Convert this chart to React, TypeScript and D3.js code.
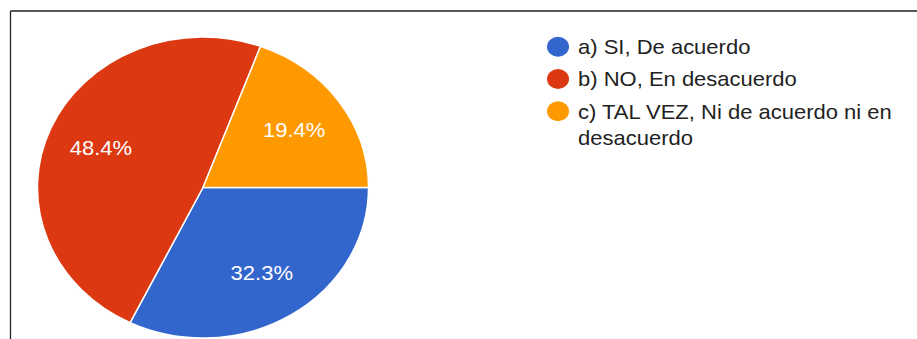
import React from "react";
import * as d3 from "d3";

const categories = ["a) SI, De acuerdo", "b) NO, En desacuerdo", "c) TAL VEZ, Ni de acuerdo ni en desacuerdo"];
const legendLines = [["a) SI, De acuerdo"], ["b) NO, En desacuerdo"], ["c) TAL VEZ, Ni de acuerdo ni en", "desacuerdo"]];
const counts = [10, 15, 6];
const colors = ["#3366cc", "#dc3912", "#ff9900"];

const W = 917;
const H = 339;
const SX = 1.1;
const CX = 203;
const CY = 187.5;
const R = 150.5;
const FONT = "'Liberation Sans', Arial, sans-serif";

export default function App() {
  const total = d3.sum(counts);
  const pie = d3
    .pie<number>()
    .sort(null)
    .startAngle(Math.PI / 2)
    .endAngle(Math.PI / 2 + 2 * Math.PI);
  const arcs = pie(counts);
  const arc = d3.arc<d3.PieArcDatum<number>>().innerRadius(0).outerRadius(R);
  const labelArc = d3.arc<d3.PieArcDatum<number>>().innerRadius(101).outerRadius(101);
  const fmt = d3.format(".1%");

  const legendY = d3.scalePoint<number>().domain([0, 1, 2]).range([46.7, 111.3]);

  return (
    <svg
      width={W}
      height={H}
      style={{ position: "absolute", left: 0, top: 0, background: "#fff" }}
    >
      <line x1={10.5} y1={11} x2={W} y2={11} stroke="#222" strokeWidth={1.3} />
      <line x1={10.5} y1={11} x2={10.5} y2={H} stroke="#222" strokeWidth={1.3} />
      <g transform={`translate(${CX},${CY}) scale(${SX},1)`}>
        {arcs.map((a, i) => (
          <path
            key={i}
            d={arc(a) || ""}
            fill={colors[i]}
            stroke="#fff"
            strokeWidth={1.5}
            vectorEffect="non-scaling-stroke"
          />
        ))}
        {arcs.map((a, i) => {
          const [x, y] = labelArc.centroid(a);
          return (
            <text
              key={i}
              x={x}
              y={y}
              dy="0.36em"
              textAnchor="middle"
              fill="#fff"
              fontFamily={FONT}
              fontSize={20}
            >
              {fmt(a.data / total)}
            </text>
          );
        })}
      </g>
      {categories.map((c, i) => (
        <g key={c} transform={`translate(558,${legendY(i)}) scale(${SX},1)`}>
          <circle r={10} fill={colors[i]} />
          {legendLines[i].map((ln, j) => (
            <text
              key={j}
              x={18.2}
              y={7.3 + j * 26}
              fill="#222"
              fontFamily={FONT}
              fontSize={20}
            >
              {ln}
            </text>
          ))}
        </g>
      ))}
    </svg>
  );
}
